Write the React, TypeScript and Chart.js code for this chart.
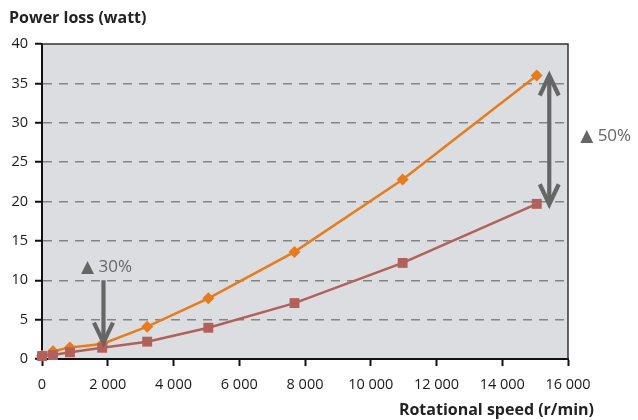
import React, { useEffect, useRef } from "react";
import { Chart, registerables } from "chart.js";

Chart.register(...registerables);

// Rotational speed (r/min)
const speeds = [0, 335, 850, 1830, 3200, 5060, 7680, 10970, 15050];
// Power loss (watt), upper series (orange diamonds)
const lossHigh = [0.4, 1.0, 1.45, 1.9, 4.1, 7.7, 13.6, 22.8, 36.0];
// Power loss (watt), lower series (red squares)
const lossLow = [0.38, 0.5, 0.85, 1.43, 2.2, 3.97, 7.1, 12.2, 19.7];

const xTickValues = [0, 2000, 4000, 6000, 8000, 10000, 12000, 14000, 16000];
const yTickValues = [0, 5, 10, 15, 20, 25, 30, 35, 40];

const yTitle = "Power loss (watt)";
const xTitle = "Rotational speed (r/min)";

// Annotations in data coordinates
const arrow30 = { x: 1870, from: 10, to: 2.07 };
const label30 = { x: 1190, y: 11.66, text: "▲ 30%" };
const arrow50 = { x: 15430, from: 36.0, to: 19.65 };
const label50 = { x: 16370, y: 28.3, text: "▲ 50%" };

const FONT = "'Open Sans', 'Noto Sans', 'DejaVu Sans', sans-serif";
const ORANGE = "#e67c1e";
const RED = "#b2605a";
const GREY = "#666666";

const fmt = (v: number) => String(v).replace(/\B(?=(\d{3})+(?!\d))/g, " ");

function drawChevron(ctx: CanvasRenderingContext2D, x: number, tipY: number, dir: number) {
  // dir = 1: pointing down, -1: pointing up
  ctx.beginPath();
  ctx.moveTo(x - 9.5, tipY - dir * 20);
  ctx.lineTo(x, tipY);
  ctx.lineTo(x + 9.5, tipY - dir * 20);
  ctx.stroke();
}

const overlayPlugin = {
  id: "overlay",
  beforeDraw(chart: any) {
    const { ctx, chartArea: a } = chart;
    ctx.save();
    ctx.fillStyle = "#dcdde0";
    ctx.fillRect(a.left, a.top, a.right - a.left, a.bottom - a.top);
    ctx.restore();
  },
  afterDatasetsDraw(chart: any) {
    const { ctx } = chart;
    const xs = chart.scales.x;
    const ys = chart.scales.y;
    ctx.save();
    ctx.strokeStyle = GREY;
    ctx.lineWidth = 4.2;
    ctx.lineJoin = "miter";
    ctx.lineCap = "butt";
    // 30% arrow (down only)
    {
      const x = xs.getPixelForValue(arrow30.x);
      const y1 = ys.getPixelForValue(arrow30.from);
      const y2 = ys.getPixelForValue(arrow30.to);
      ctx.beginPath();
      ctx.moveTo(x, y1);
      ctx.lineTo(x, y2 - 2);
      ctx.stroke();
      drawChevron(ctx, x, y2, 1);
    }
    // 50% arrow (double)
    {
      const x = xs.getPixelForValue(arrow50.x);
      const y1 = ys.getPixelForValue(arrow50.from);
      const y2 = ys.getPixelForValue(arrow50.to);
      ctx.beginPath();
      ctx.moveTo(x, y1 + 2);
      ctx.lineTo(x, y2 - 2);
      ctx.stroke();
      drawChevron(ctx, x, y1, -1);
      drawChevron(ctx, x, y2, 1);
    }
    ctx.restore();
  },
  afterDraw(chart: any) {
    const { ctx, chartArea: a } = chart;
    const xs = chart.scales.x;
    const ys = chart.scales.y;
    ctx.save();
    // top and right frame
    ctx.strokeStyle = "#333333";
    ctx.lineWidth = 1.5;
    ctx.beginPath();
    ctx.moveTo(a.left, a.top);
    ctx.lineTo(a.right, a.top);
    ctx.lineTo(a.right, a.bottom);
    ctx.stroke();

    // titles
    ctx.fillStyle = "#222222";
    ctx.font = `bold 16px ${FONT}`;
    ctx.textBaseline = "middle";
    ctx.textAlign = "left";
    ctx.fillText(yTitle, 9, 18);
    ctx.textAlign = "right";
    ctx.fillText(xTitle, 594, 410);

    // annotation labels
    ctx.fillStyle = GREY;
    ctx.font = `17px ${FONT}`;
    ctx.textAlign = "left";
    ctx.fillText(label30.text, xs.getPixelForValue(label30.x), ys.getPixelForValue(label30.y));
    ctx.fillText(label50.text, xs.getPixelForValue(label50.x), ys.getPixelForValue(label50.y));
    ctx.restore();
  },
};

export default function App() {
  const ref = useRef<HTMLCanvasElement | null>(null);

  useEffect(() => {
    document.body.style.margin = "0";
    const canvas = ref.current;
    if (!canvas) return;
    const chart = new Chart(canvas, {
      type: "line",
      data: {
        datasets: [
          {
            label: "Low",
            data: speeds.map((s, i) => ({ x: s, y: lossLow[i] })),
            borderColor: RED,
            backgroundColor: RED,
            borderWidth: 2.5,
            pointStyle: "rect",
            pointRadius: 7,
            pointHoverRadius: 7,
            pointBorderWidth: 0,
            tension: 0,
            clip: false,
          },
          {
            label: "High",
            data: speeds.map((s, i) => ({ x: s, y: lossHigh[i] })),
            borderColor: ORANGE,
            backgroundColor: ORANGE,
            borderWidth: 2.5,
            pointStyle: "rectRot",
            pointRadius: 6,
            pointHoverRadius: 6,
            pointBorderWidth: 0,
            tension: 0,
            clip: false,
          },
        ],
      },
      options: {
        responsive: false,
        animation: false,
        events: [],
        layout: { padding: { top: 44, right: 70, left: 0, bottom: 0 } },
        plugins: {
          legend: { display: false },
          tooltip: { enabled: false },
          title: { display: false },
        },
        scales: {
          x: {
            type: "linear",
            min: 0,
            max: 16000,
            afterFit(scale: any) {
              scale.height = 61;
            },
            afterBuildTicks(scale: any) {
              scale.ticks = xTickValues.map((v) => ({ value: v }));
            },
            ticks: {
              color: "#1a1a1a",
              font: { family: FONT, size: 14.5 },
              padding: 10,
              maxRotation: 0,
              autoSkip: false,
              callback: (v: any) => fmt(Number(v)),
            },
            grid: {
              display: true,
              drawOnChartArea: false,
              drawTicks: true,
              tickLength: 7,
              tickColor: "#111111",
              tickWidth: 2,
            },
            border: { display: true, color: "#111111", width: 2 },
          },
          y: {
            type: "linear",
            min: 0,
            max: 40,
            afterFit(scale: any) {
              scale.width = 42;
            },
            afterBuildTicks(scale: any) {
              scale.ticks = yTickValues.map((v) => ({ value: v }));
            },
            ticks: {
              color: "#1a1a1a",
              font: { family: FONT, size: 14.5 },
              padding: 7,
              autoSkip: false,
              callback: (v: any) => String(v),
            },
            grid: {
              display: true,
              drawOnChartArea: true,
              drawTicks: true,
              tickLength: 7,
              tickColor: "#111111",
              tickWidth: 2,
              lineWidth: 1.5,
              color: (c: any) =>
                c.tick && (c.tick.value === 0 || c.tick.value === 40) ? "rgba(0,0,0,0)" : "#858585",
            },
            border: { display: true, color: "#111111", width: 2, dash: [9, 7] },
          },
        },
      },
      plugins: [overlayPlugin],
    });
    return () => chart.destroy();
  }, []);

  return (
    <div style={{ position: "absolute", left: 0, top: 0, width: 638, height: 420, background: "#fff" }}>
      <canvas ref={ref} width={638} height={420} style={{ width: 638, height: 420, display: "block" }} />
    </div>
  );
}
